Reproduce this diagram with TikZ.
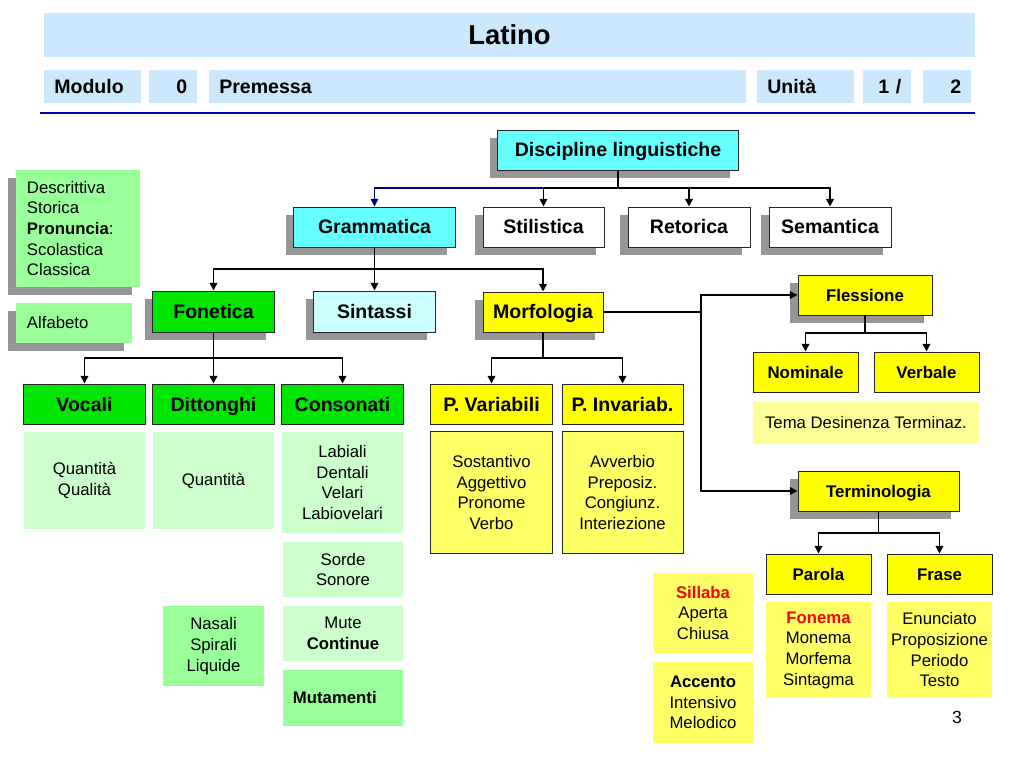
\documentclass[tikz,border=0pt]{standalone}
\usepackage{fontspec}
\setmainfont{Liberation Sans}
\usetikzlibrary{arrows.meta,shadows}

\definecolor{hdrblue}{HTML}{CCE8FC}
\definecolor{rulblue}{HTML}{0000A0}
\definecolor{linkblue}{HTML}{000080}
\definecolor{cyanbox}{HTML}{66FFFF}
\definecolor{palecyan}{HTML}{CCFFFF}
\definecolor{greenbox}{HTML}{00E600}
\definecolor{midgreen}{HTML}{99FF99}
\definecolor{palegreen}{HTML}{CCFFCC}
\definecolor{yelbox}{HTML}{FFFF00}
\definecolor{softyel}{HTML}{FFFF66}
\definecolor{paleyel}{HTML}{FFFF99}
\definecolor{shadowgray}{HTML}{969696}
\definecolor{redword}{HTML}{FF0000}

\begin{document}
\begin{tikzpicture}[x=0.025cm, y=-0.025cm,
    hdr/.style={fill=hdrblue, anchor=west, minimum height=0.825cm, inner xsep=0.25cm, inner ysep=0pt,
        text height=9.95pt, text depth=0pt, font=\bfseries\fontsize{13.9}{16}\selectfont},
    box/.style={draw=black!85, line width=0.7pt, minimum height=1cm, inner sep=0pt,
        text height=9.95pt, text depth=0pt, font=\bfseries\fontsize{13.9}{16}\selectfont},
    smallbox/.style={box, text height=8.6pt, font=\bfseries\fontsize{12}{14}\selectfont},
    dropsh/.style={drop shadow={shadow xshift=-0.21cm, shadow yshift=-0.21cm, fill=shadowgray, opacity=1}},
    note/.style={inner sep=0pt, align=center, font=\fontsize{11.9}{14.7}\selectfont},
    bus/.style={line width=1.1pt},
    conn/.style={line width=1.1pt, -{Triangle[length=5.5pt, width=5.5pt]}}]

    \useasboundingbox (0,0) rectangle (1024,768);

    % header
    \node[fill=hdrblue, minimum width=23.275cm, minimum height=1.1cm, text height=13.96pt, text depth=0pt,
        font=\bfseries\fontsize{19.5}{22}\selectfont] (title) at (509.5,35) {Latino};
    \node[hdr, text width=1.925cm, align=left] (modulo) at (44,86.5) {Modulo};
    \node[hdr, text width=0.7cm, align=right] (modnum) at (149,86.5) {0};
    \node[hdr, text width=12.925cm, align=left] (premessa) at (209,86.5) {Premessa};
    \node[hdr, text width=1.925cm, align=left] (unita) at (757,86.5) {Unità};
    \node[hdr, text width=0.7cm, align=right] (unum) at (863,86.5) {1 /};
    \node[hdr, text width=0.7cm, align=right] (utot) at (923,86.5) {2};
    \draw[rulblue, line width=1.6pt] (40,113) -- (975,113);

    % side notes
    \node[note, dropsh, fill=midgreen, align=left, inner xsep=0.275cm, text width=2.55cm, minimum height=2.925cm]
        (descr) at (78,228.5) {Descrittiva\\Storica\\\textbf{Pronuncia}:\\Scolastica\\Classica};
    \node[note, dropsh, fill=midgreen, align=left, inner xsep=0.275cm, text width=2.35cm, minimum height=1cm]
        (alfa) at (74,323) {Alfabeto};

    % main tree
    \node[box, dropsh, fill=cyanbox, minimum width=6cm] (disc) at (618,150) {Discipline linguistiche};
    \node[box, dropsh, fill=cyanbox, minimum width=4.025cm] (gram) at (374.5,227) {Grammatica};
    \node[box, dropsh, fill=white, minimum width=3.025cm] (stil) at (543.5,227) {Stilistica};
    \node[box, dropsh, fill=white, minimum width=3.05cm] (reto) at (689,227) {Retorica};
    \node[box, dropsh, fill=white, minimum width=3.05cm] (sema) at (830,227) {Semantica};

    \node[box, dropsh, fill=greenbox, minimum width=3.025cm, minimum height=1.025cm] (fone) at (213.5,311.5) {Fonetica};
    \node[box, dropsh, fill=palecyan, minimum width=3.025cm, minimum height=1.025cm] (sint) at (374.5,311.5) {Sintassi};
    \node[box, dropsh, fill=yelbox, minimum width=3cm] (morf) at (543,312) {Morfologia};

    \node[box, fill=greenbox, minimum width=3.025cm] (voca) at (84.5,404) {Vocali};
    \node[box, fill=greenbox, minimum width=3.025cm] (ditt) at (213.5,404) {Dittonghi};
    \node[box, fill=greenbox, minimum width=3.025cm] (cons) at (342.5,404) {Consonati};
    \node[box, fill=yelbox, minimum width=3.025cm] (pvar) at (491.5,404) {P. Variabili};
    \node[box, fill=yelbox, minimum width=3.025cm] (pinv) at (622.5,404) {P. Invariab.};

    \node[note, fill=palegreen, minimum width=3.025cm, minimum height=2.425cm] (vsub) at (84.5,480.5) {Quantità\\Qualità};
    \node[note, fill=palegreen, minimum width=3.025cm, minimum height=2.425cm] (dsub) at (213.5,480.5) {Quantità};
    \node[note, fill=palegreen, minimum width=3.025cm, minimum height=2.525cm] (csub) at (342.5,482.5) {Labiali\\Dentali\\Velari\\Labiovelari};
    \node[note, fill=palegreen, minimum width=3cm, minimum height=1.375cm] (sorde) at (343,569.5) {Sorde\\Sonore};
    \node[note, fill=palegreen, minimum width=3cm, minimum height=1.375cm] (mute) at (343,633.5) {Mute\\\textbf{Continue}};
    \node[note, fill=midgreen, align=left, inner xsep=0.25cm, text width=2.5cm, minimum height=1.4cm] (muta) at (343,698) {\textbf{Mutamenti}};
    \node[note, fill=midgreen, minimum width=2.525cm, minimum height=2cm] (nasa) at (213.5,646) {Nasali\\Spirali\\Liquide};

    \node[note, draw=black!85, line width=0.7pt, fill=softyel, minimum width=3.025cm, minimum height=3.025cm] (vasub) at (491.5,492.5) {Sostantivo\\Aggettivo\\Pronome\\Verbo};
    \node[note, draw=black!85, line width=0.7pt, fill=softyel, minimum width=3.025cm, minimum height=3.025cm] (insub) at (622.5,492.5) {Avverbio\\Preposiz.\\Congiunz.\\Interiezione};

    \node[note, fill=softyel, minimum width=2.5cm, minimum height=2cm] (sill) at (703,613) {\textbf{\color{redword}Sillaba}\\Aperta\\Chiusa};
    \node[note, fill=softyel, minimum width=2.5cm, minimum height=2.025cm] (acce) at (703,702.5) {\textbf{Accento}\\Intensivo\\Melodico};

    % right branch
    \node[smallbox, dropsh, fill=yelbox, minimum width=3.35cm] (fles) at (865,295) {Flessione};
    \node[smallbox, fill=yelbox, minimum width=2.625cm] (nomi) at (805.5,372) {Nominale};
    \node[smallbox, fill=yelbox, minimum width=2.625cm] (verb) at (926.5,372) {Verbale};
    \node[note, fill=paleyel, minimum width=5.65cm, minimum height=1.05cm] (tema) at (866,423) {Tema Desinenza Terminaz.};
    \node[smallbox, dropsh, fill=yelbox, minimum width=4.025cm] (term) at (878.5,491) {Terminologia};
    \node[smallbox, fill=yelbox, minimum width=2.625cm] (paro) at (818.5,574) {Parola};
    \node[smallbox, fill=yelbox, minimum width=2.625cm] (fras) at (939.5,574) {Frase};
    \node[note, fill=softyel, minimum width=2.625cm, minimum height=2.4cm] (psub) at (818.5,650) {\textbf{\color{redword}Fonema}\\Monema\\Morfema\\Sintagma};
    \node[note, fill=softyel, minimum width=2.625cm, minimum height=2.4cm] (fsub) at (939.5,650) {Enunciato\\Proposizione\\Periodo\\Testo};

    \node[note, font=\fontsize{12.5}{14}\selectfont] (pagenum) at (957,717) {3};

    % connectors
    \coordinate (dbus) at (618,188);
    \draw[bus] (disc) -- (dbus);
    \draw[conn, linkblue, line width=0.8pt] (dbus) -| (gram);
    \draw[conn] (dbus) -| (stil);
    \draw[conn] (dbus) -| (reto);
    \draw[conn] (dbus) -| (sema);

    \coordinate (gbus) at (374.5,269);
    \draw[bus] (gram) -- (gbus);
    \draw[conn] (gbus) -| (fone);
    \draw[conn] (gbus) -- (sint);
    \draw[conn] (gbus) -| (morf);

    \coordinate (fbus) at (213.5,358);
    \draw[bus] (fone) -- (fbus);
    \draw[conn] (fbus) -| (voca);
    \draw[conn] (fbus) -- (ditt);
    \draw[conn] (fbus) -| (cons);

    \coordinate (mbus) at (543,358);
    \draw[bus] (morf) -- (mbus);
    \draw[conn] (mbus) -| (pvar);
    \draw[conn] (mbus) -| (pinv);

    \coordinate (mjoin) at (701,312);
    \draw[bus] (morf) -- (mjoin);
    \draw[conn] (mjoin) |- (fles);
    \draw[conn] (mjoin) |- (term);

    \coordinate (lbus) at (865,333);
    \draw[bus] (fles) -- (lbus);
    \draw[conn] (lbus) -| (nomi);
    \draw[conn] (lbus) -| (verb);

    \coordinate (tbus) at (878.5,533);
    \draw[bus] (term) -- (tbus);
    \draw[conn] (tbus) -| (paro);
    \draw[conn] (tbus) -| (fras);
\end{tikzpicture}
\end{document}
